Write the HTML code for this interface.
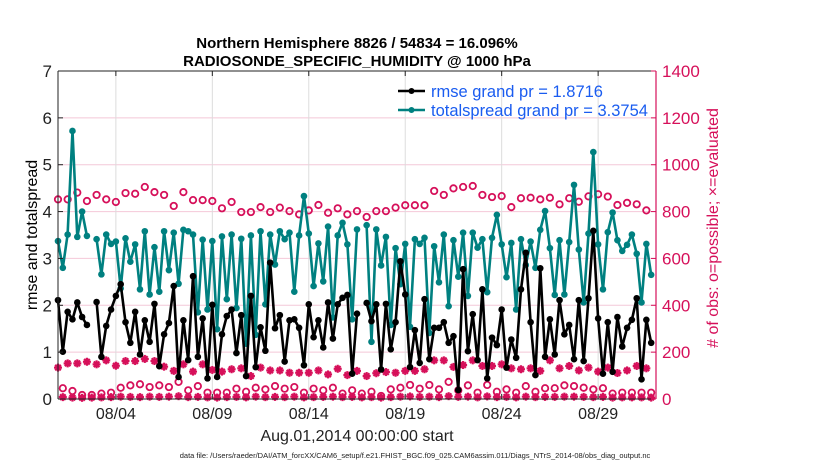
<!DOCTYPE html>
<html><head><meta charset="utf-8"><style>
html,body{margin:0;padding:0;background:#fff;}
svg{display:block;font-family:"Liberation Sans",Arial,sans-serif;}
</style></head><body>
<svg id="chart" width="830" height="470" viewBox="0 0 830 470" xmlns="http://www.w3.org/2000/svg">
<rect width="830" height="470" fill="#fff"/>
<g id="grid"></g>
<g id="series"></g>
<g id="axes"></g>
<text x="357" y="48" text-anchor="middle" font-size="15" font-weight="bold">Northern Hemisphere 8826 / 54834 = 16.096%</text>
<text x="357" y="66" text-anchor="middle" font-size="15" font-weight="bold">RADIOSONDE_SPECIFIC_HUMIDITY @ 1000 hPa</text>
<text transform="translate(37,235) rotate(-90)" text-anchor="middle" font-size="16">rmse and totalspread</text>
<text transform="translate(718,228) rotate(-90)" text-anchor="middle" font-size="16" fill="#d6105a"># of obs: o=possible; ×=evaluated</text>
<text x="357" y="441" text-anchor="middle" font-size="16" fill="#222">Aug.01,2014 00:00:00 start</text>
<text x="415" y="458" text-anchor="middle" font-size="7.5" fill="#222">data file: /Users/raeder/DAI/ATM_forcXX/CAM6_setup/f.e21.FHIST_BGC.f09_025.CAM6assim.011/Diags_NTrS_2014-08/obs_diag_output.nc</text>
<g>
<line x1="398" y1="91" x2="425" y2="91" stroke="#000" stroke-width="2.5"/>
<circle cx="411.5" cy="91" r="3" fill="#000"/>
<text x="431" y="97" font-size="16.5" fill="#1a5cf0">rmse grand pr = 1.8716</text>
<line x1="398" y1="110" x2="425" y2="110" stroke="#008080" stroke-width="2.5"/>
<circle cx="411.5" cy="110" r="3" fill="#008080"/>
<text x="431" y="116" font-size="16.5" fill="#1a5cf0">totalspread grand pr = 3.3754</text>
</g>
</svg>
<script>
const rmse=[2.11,1.01,1.86,1.70,2.06,1.75,1.58,null,2.07,0.90,1.56,1.91,2.20,2.45,1.64,1.20,1.86,0.95,1.68,1.22,2.03,0.70,1.38,1.62,2.41,0.47,1.68,0.83,2.62,0.90,1.72,0.44,2.01,0.47,1.38,1.77,1.91,0.98,1.79,0.49,2.20,0.68,1.53,1.03,2.91,1.51,1.79,0.80,1.68,1.70,1.52,0.72,2.02,1.32,1.68,1.10,2.06,1.29,2.02,2.16,2.22,0.54,1.82,null,2.05,1.66,2.02,0.63,2.03,1.06,1.64,2.94,2.23,0.68,1.47,0.77,2.13,0.85,1.52,1.52,1.64,1.20,1.34,0.19,2.77,1.02,1.81,0.83,2.34,0.44,1.31,1.15,1.91,0.67,1.27,0.88,2.34,3.12,1.64,0.51,2.79,0.90,1.70,0.95,2.11,1.38,1.58,0.85,2.11,0.81,2.15,3.59,1.72,0.54,1.64,0.58,1.75,1.12,1.52,1.69,2.15,0.42,1.69,1.20];
const spread=[3.37,2.80,3.51,5.72,3.46,4.00,3.48,null,3.41,2.66,3.51,3.31,3.36,2.36,3.43,2.93,3.30,2.34,3.58,2.23,3.24,2.29,3.58,2.75,3.55,2.46,3.61,3.58,3.51,1.85,3.40,1.91,3.37,1.49,3.47,2.13,3.51,1.94,3.42,1.18,3.49,1.37,3.58,2.02,3.51,2.87,3.58,3.41,3.55,2.29,3.49,4.33,3.53,2.41,3.32,2.51,3.68,1.74,3.49,3.76,3.30,1.70,3.62,null,3.71,1.22,3.62,2.85,3.46,1.58,3.22,2.45,3.31,1.54,3.41,3.31,3.44,1.41,3.26,2.49,3.51,1.98,3.39,2.61,3.55,2.20,3.55,3.23,3.41,2.28,3.44,3.93,3.30,2.60,3.33,1.91,3.41,2.86,3.36,2.80,3.61,4.01,3.22,2.22,3.39,2.23,3.35,4.57,3.19,2.06,3.53,5.27,3.30,2.34,3.56,3.98,3.39,3.16,3.29,3.51,3.10,2.06,3.31,2.65];
const possibleUpper=[852,852,881,845,871,852,841,879,876,905,883,871,824,883,849,849,845,814,841,798,798,819,798,817,802,788,805,828,795,814,788,802,777,802,802,817,827,827,827,888,871,899,905,909,871,862,866,819,857,859,852,859,831,857,842,865,874,864,828,837,831,805];
const evaluatedUpper=[134,152,152,159,148,165,142,162,162,171,162,138,120,148,117,148,124,117,127,131,98,134,122,122,112,112,112,122,105,129,102,120,98,110,115,112,120,120,127,165,165,137,145,165,141,141,148,131,127,131,120,165,131,141,122,134,117,134,111,122,141,131];
const possibleLower=[46,34,17,17,23,27,48,58,63,51,58,51,73,37,55,27,27,27,44,31,48,41,55,44,51,27,44,37,48,23,37,23,31,13,41,48,60,44,60,41,73,37,58,27,60,31,41,27,55,31,46,46,58,55,48,41,46,23,27,27,27,27];
const evaluatedLower=[8,6,5,6,7,8,10,9,8,10,9,10,12,8,9,7,6,8,9,7,10,8,9,8,10,7,8,9,10,8,9,7,8,6,8,10,11,9,10,8,12,9,10,7,11,8,9,7,10,8,9,9,10,10,9,8,9,6,7,7,7,6];
const leftTicks=[0,1,2,3,4,5,6,7];
const rightTicks=[0,200,400,600,800,1000,1200,1400];
const xTickDays=[3,8,13,18,23,28];
const xTickLabels=["08/04","08/09","08/14","08/19","08/24","08/29"];

const X0=58,X1=656,Y0=399,Y1=71,PINK="#d6105a",NS="http://www.w3.org/2000/svg";
function xs(d){return X0+(d/31)*(X1-X0);}
function yl(v){return Y0-(v/7)*(Y0-Y1);}
function yr(v){return Y0-(v/1400)*(Y0-Y1);}
function mk(tag,attrs,parent){const e=document.createElementNS(NS,tag);for(const k in attrs)e.setAttribute(k,attrs[k]);parent.appendChild(e);return e;}
const grid=document.getElementById('grid'),ser=document.getElementById('series'),axes=document.getElementById('axes');

rightTicks.forEach(t=>{if(t>0&&t<1400){const l=mk('line',{x1:X0,x2:X1,y1:yr(t),y2:yr(t),stroke:'#f4c8d8','stroke-width':1},grid);

}});
xTickDays.forEach(d=>{const l=mk('line',{x1:xs(d),x2:xs(d),y1:Y1,y2:Y0,stroke:'#dcdcdc','stroke-width':1},grid);

});

function line(arr,color,step,offset,scale){
  let d='',pen=false;
  arr.forEach((v,i)=>{if(v===null){pen=false;return;}const x=xs((i*step+offset)/24),y=scale(v);d+=(pen?'L':'M')+x.toFixed(1)+' '+y.toFixed(1);pen=true;});
  const p=mk('path',{d:d,fill:'none',stroke:color,'stroke-width':2.6,'stroke-linejoin':'round'},ser);
  return p;
}
function dots(arr,color,step,offset,scale,name){
  arr.forEach((v,i)=>{if(v===null)return;const c=mk('circle',{cx:xs((i*step+offset)/24),cy:scale(v),r:3.3,fill:color},ser);
  
  });
}
function rings(arr,step,offset,name){
  arr.forEach((v,i)=>{const c=mk('circle',{cx:xs((i*step+offset)/24),cy:yr(v),r:3.2,fill:'none',stroke:PINK,'stroke-width':1.8},ser);
  
  });
}
function stars(arr,step,offset,name){
  arr.forEach((v,i)=>{const x=xs((i*step+offset)/24),y=yr(v),r=4;
  const g=mk('g',{stroke:PINK,'stroke-width':2.2},ser);
  
  
  mk('line',{x1:x-r,x2:x+r,y1:y,y2:y},g);mk('line',{x1:x,x2:x,y1:y-r,y2:y+r},g);
  mk('line',{x1:x-r*0.7,x2:x+r*0.7,y1:y-r*0.7,y2:y+r*0.7},g);mk('line',{x1:x-r*0.7,x2:x+r*0.7,y1:y+r*0.7,y2:y-r*0.7},g);});
}
rings(possibleUpper,12,0,'possible-obs-upper');
rings(possibleLower,12,6,'possible-obs-lower');
stars(evaluatedUpper,12,0,'evaluated-obs-upper');
stars(evaluatedLower,12,6,'evaluated-obs-lower');
const ps=line(spread,'#008080',6,0,yl);


dots(spread,'#008080',6,0,yl,'totalspread-point');
const pr=line(rmse,'#000',6,0,yl);


dots(rmse,'#000',6,0,yl,'rmse-point');

mk('line',{x1:X0,x2:X1,y1:Y1,y2:Y1,stroke:'#222','stroke-width':1},axes);
mk('line',{x1:X0,x2:X1,y1:Y0,y2:Y0,stroke:'#222','stroke-width':1},axes);
mk('line',{x1:X0,x2:X0,y1:Y1,y2:Y0,stroke:'#222','stroke-width':1},axes);
mk('line',{x1:X1,x2:X1,y1:Y1,y2:Y0,stroke:PINK,'stroke-width':1.2},axes);
leftTicks.forEach(t=>{mk('line',{x1:X0,x2:X0+5,y1:yl(t),y2:yl(t),stroke:'#222'},axes);
  const tx=mk('text',{x:X0-6,y:yl(t)+6,'text-anchor':'end','font-size':17,fill:'#222'},axes);tx.textContent=t;
  
  });
rightTicks.forEach(t=>{mk('line',{x1:X1-5,x2:X1,y1:yr(t),y2:yr(t),stroke:PINK},axes);
  const tx=mk('text',{x:X1+6,y:yr(t)+6,'font-size':17,fill:PINK},axes);tx.textContent=t;
  
  });
xTickDays.forEach((d,i)=>{mk('line',{x1:xs(d),x2:xs(d),y1:Y0,y2:Y0-5,stroke:'#222'},axes);mk('line',{x1:xs(d),x2:xs(d),y1:Y1,y2:Y1+5,stroke:'#222'},axes);
  const tx=mk('text',{x:xs(d),y:Y0+20,'text-anchor':'middle','font-size':16,fill:'#222'},axes);tx.textContent=xTickLabels[i];
  
  });
</script>
</body></html>
